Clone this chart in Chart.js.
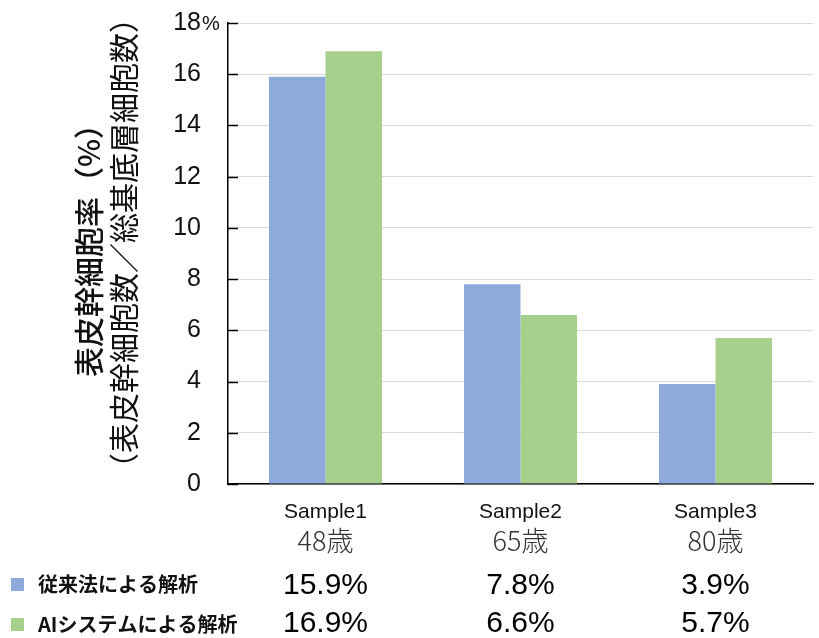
<!DOCTYPE html>
<html>
<head>
<meta charset="utf-8">
<script src="https://cdn.jsdelivr.net/npm/chart.js@4"></script>
<style>
  body { margin: 0; background: #fff; }
  #wrap { width: 819px; height: 638px; }
</style>
</head>
<body>
<div id="wrap"><canvas id="stem_chart"></canvas></div>
<script>
var categories = ["Sample1", "Sample2", "Sample3"];
var ages = ["48歳", "65歳", "80歳"];
var seriesNames = ["従来法による解析", "AIシステムによる解析"];
var conventional = [15.9, 7.8, 3.9];
var aiSystem = [16.9, 6.6, 5.7];
var yTitle = ["表皮幹細胞率（%）", "（表皮幹細胞数／総基底層細胞数）"];
var colors = ["#8eaadb", "#a8d08d"];

var extras = {
    id: "extras",
    afterDraw: function (chart) {
        var ctx = chart.ctx, area = chart.chartArea;
        var xs = chart.scales.x, ys = chart.scales.y;
        ctx.save();

        // short ticks inside the axis
        ctx.strokeStyle = "#000";
        ctx.lineWidth = 1.5;
        ys.ticks.forEach(function (t) {
            var y = Math.round(ys.getPixelForValue(t.value)) + 0.5;
            ctx.beginPath();
            ctx.moveTo(area.left, y);
            ctx.lineTo(area.left + 10, y);
            ctx.stroke();
        });

        // % after the top label
        ctx.fillStyle = "#111";
        ctx.font = '20px "Liberation Sans", Arial, sans-serif';
        ctx.textAlign = "left";
        ctx.textBaseline = "middle";
        ctx.fillText("%", 202, ys.getPixelForValue(18) + 1);

        // rotated axis title, two lines
        ctx.save();
        ctx.translate(89, 243);
        ctx.rotate(-Math.PI / 2);
        ctx.textAlign = "center";
        ctx.fillStyle = "#111";
        ctx.font = '500 30px "Noto Sans CJK JP", sans-serif';
        ctx.fillText(yTitle[0], 0, 0);
        ctx.font = '400 30px "Noto Sans CJK JP", sans-serif';
        ctx.fillText(yTitle[1], 0, 35);
        ctx.restore();

        // category labels and value table
        ctx.textAlign = "center";
        categories.forEach(function (c, i) {
            var x = xs.getPixelForValue(i);
            ctx.fillStyle = "#111";
            ctx.font = '21px "Liberation Sans", Arial, sans-serif';
            ctx.fillText(c, x, 512);
            ctx.fillStyle = "#333";
            ctx.font = '300 27px "Noto Sans CJK JP", sans-serif';
            ctx.fillText(ages[i], x, 541);
            ctx.fillStyle = "#000";
            ctx.font = '30px "Liberation Sans", Arial, sans-serif';
            ctx.fillText(conventional[i].toFixed(1) + "%", x, 586);
            ctx.fillText(aiSystem[i].toFixed(1) + "%", x, 624);
        });

        // row labels with colour keys
        ctx.textAlign = "left";
        [584, 624].forEach(function (y, k) {
            ctx.fillStyle = colors[k];
            ctx.fillRect(11, y - 6, 13, 13);
            ctx.fillStyle = "#111";
            ctx.font = '700 20px "Noto Sans CJK JP", sans-serif';
            ctx.fillText(seriesNames[k], 38, y);
        });
        ctx.restore();
    }
};

new Chart(document.getElementById("stem_chart"), {
    type: "bar",
    data: {
        labels: categories,
        datasets: [
            { label: seriesNames[0], data: conventional, backgroundColor: colors[0] },
            { label: seriesNames[1], data: aiSystem, backgroundColor: colors[1] }
        ]
    },
    options: {
        responsive: true,
        maintainAspectRatio: false,
        animation: false,
        categoryPercentage: 0.58,
        barPercentage: 1.0,
        layout: { padding: { left: 0, top: 23, right: 6, bottom: 154 } },
        plugins: { legend: { display: false }, tooltip: { enabled: false } },
        scales: {
            x: {
                grid: { display: false, drawTicks: false },
                ticks: { display: false },
                border: { color: "#000", width: 1.5 }
            },
            y: {
                min: 0,
                max: 18,
                ticks: {
                    stepSize: 2,
                    padding: 27,
                    color: "#111",
                    font: { family: '"Liberation Sans", Arial, sans-serif', size: 25 }
                },
                grid: { color: "#d9d9d9", drawTicks: false },
                border: { color: "#000", width: 1.5 },
                afterFit: function (s) {
                    s.width = 228;
                    s.paddingTop = 0;
                    s.paddingBottom = 0;
                }
            }
        }
    },
    plugins: [extras]
});
</script>
</body>
</html>
